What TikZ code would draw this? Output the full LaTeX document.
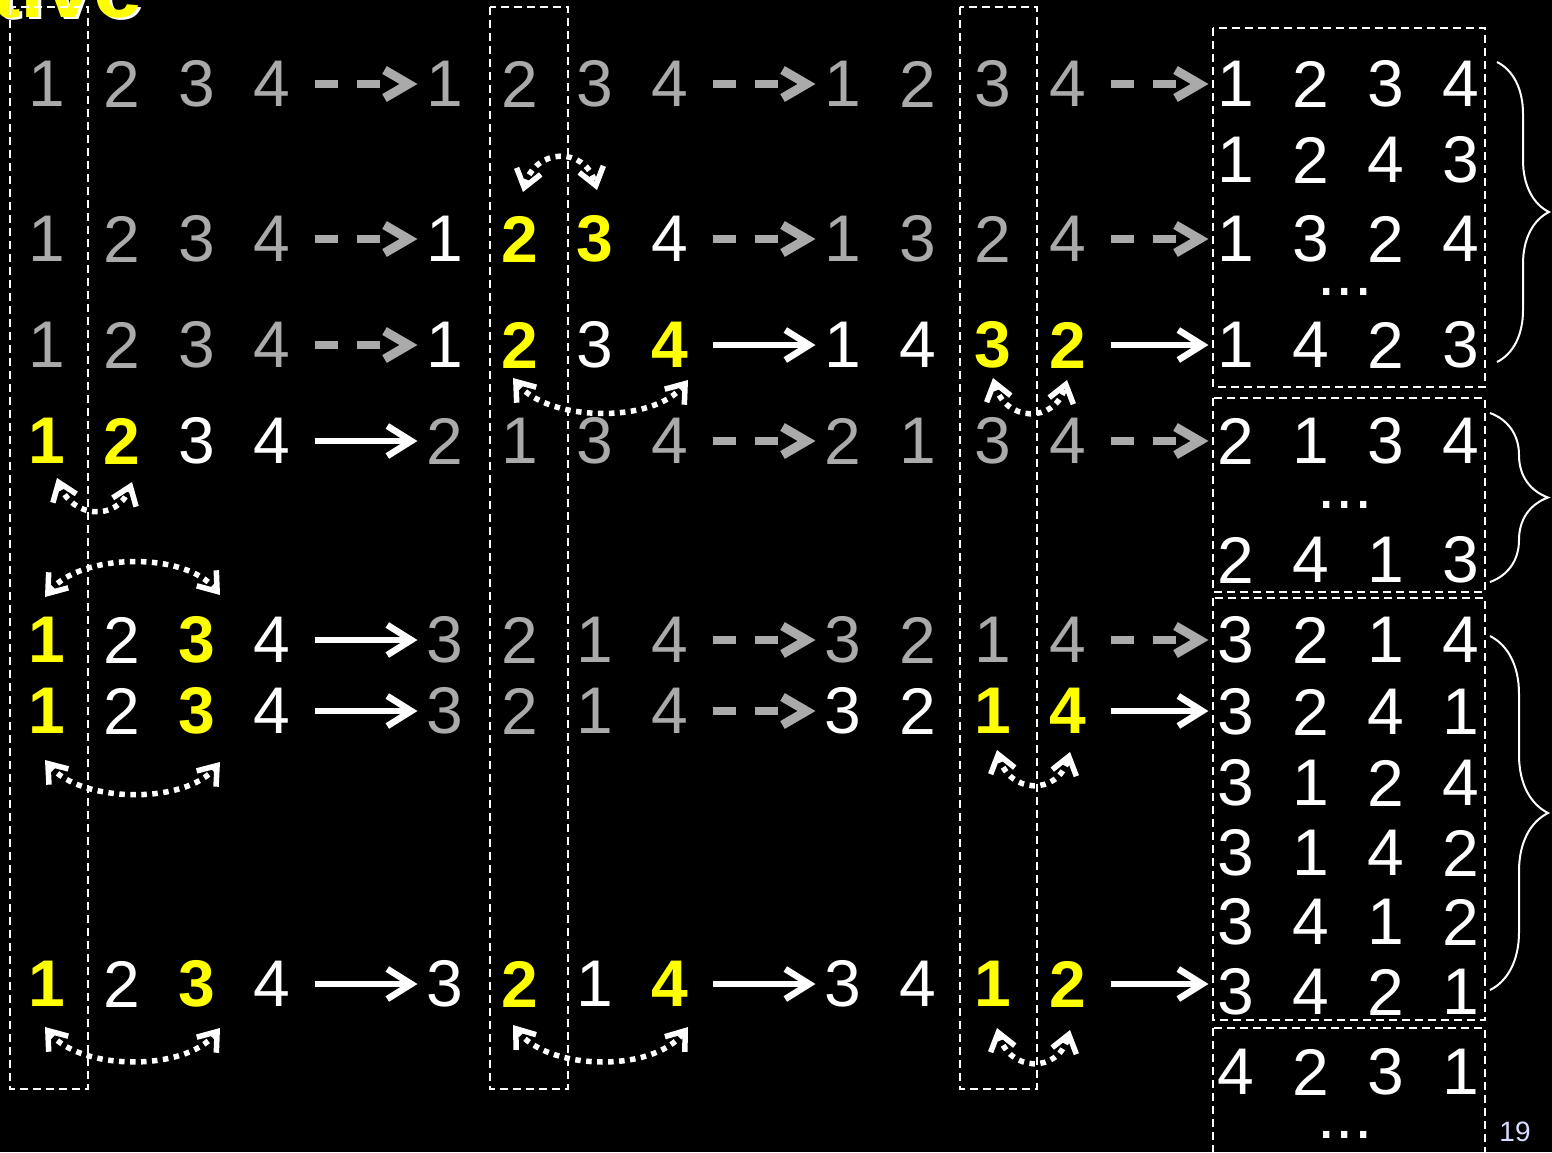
\documentclass[tikz,border=0pt]{standalone}
\usepackage{fontspec}
\setmainfont{Liberation Sans}
\usetikzlibrary{arrows.meta,calc,decorations.pathreplacing}
\definecolor{dimgray}{RGB}{170,170,170}
\definecolor{swapyellow}{RGB}{255,255,0}
\definecolor{pagenum}{RGB}{215,220,255}
\tikzset{
  digit/.style={inner sep=0pt, font=\fontsize{66}{70}\selectfont},
  digdim/.style={digit, text=dimgray},
  digon/.style={digit, text=white},
  digswap/.style={digit, text=swapyellow, font=\fontsize{66}{70}\selectfont\bfseries},
  idlearrow/.style={draw=dimgray, line width=7.5pt, dash pattern=on 23pt off 19pt,
    -{Straight Barb[length=24pt,width=28pt,line width=9pt]}, shorten <=24pt, shorten >=9pt},
  livearrow/.style={draw=white, line width=6.5pt,
    -{Straight Barb[length=24pt,width=30pt]}, shorten <=24pt, shorten >=9pt},
  swaparrow/.style={draw=white, line width=5.5pt, dash pattern=on 5.5pt off 5.5pt,
    {Straight Barb[length=17pt,width=25pt]}-{Straight Barb[length=17pt,width=25pt]}},
  boxline/.style={draw=white, line width=1.6pt, dash pattern=on 8pt off 5pt},
  curly/.style={draw=white, line width=2pt, decorate, decoration={brace, amplitude=#1}}
}
\begin{document}
\begin{tikzpicture}[x=1pt, y=-1pt]
\fill[black] (0,0) rectangle (1552,1152);
\useasboundingbox (0,0) rectangle (1552,1152);

\node[inner sep=0pt, anchor=base east, text=white, font=\fontsize{88}{90}\selectfont\bfseries] (titleshadow) at (146,19) {tive};
\node[inner sep=0pt, anchor=base east, text=swapyellow, font=\fontsize{88}{90}\selectfont\bfseries] (title) at (143,17) {tive};

\draw[boxline] (10,7) rectangle (88,1089);
\draw[boxline] (490,7) rectangle (568,1089);
\draw[boxline] (960,7) rectangle (1037,1089);
\draw[boxline] (1213,28) rectangle (1485,387);
\draw[boxline] (1213,398) rectangle (1485,592);
\draw[boxline] (1213,598) rectangle (1485,1020);
\draw[boxline] (1213,1028) rectangle (1485,1170);

\foreach \v/\s [count=\i] in {1/digdim,2/digdim,3/digdim,4/digdim,1/digdim,2/digdim,3/digdim,4/digdim,1/digdim,2/digdim,3/digdim,4/digdim}
  \node[\s] (r1-\i) at ({47+398*floor((\i-1)/4)+75*mod(\i-1,4)},84) {\v};
\foreach \v/\s [count=\i] in {1/digdim,2/digdim,3/digdim,4/digdim,1/digon,2/digswap,3/digswap,4/digon,1/digdim,3/digdim,2/digdim,4/digdim}
  \node[\s] (r2-\i) at ({47+398*floor((\i-1)/4)+75*mod(\i-1,4)},239) {\v};
\foreach \v/\s [count=\i] in {1/digdim,2/digdim,3/digdim,4/digdim,1/digon,2/digswap,3/digon,4/digswap,1/digon,4/digon,3/digswap,2/digswap}
  \node[\s] (r3-\i) at ({47+398*floor((\i-1)/4)+75*mod(\i-1,4)},345) {\v};
\foreach \v/\s [count=\i] in {1/digswap,2/digswap,3/digon,4/digon,2/digdim,1/digdim,3/digdim,4/digdim,2/digdim,1/digdim,3/digdim,4/digdim}
  \node[\s] (r4-\i) at ({47+398*floor((\i-1)/4)+75*mod(\i-1,4)},441) {\v};
\foreach \v/\s [count=\i] in {1/digswap,2/digon,3/digswap,4/digon,3/digdim,2/digdim,1/digdim,4/digdim,3/digdim,2/digdim,1/digdim,4/digdim}
  \node[\s] (r5-\i) at ({47+398*floor((\i-1)/4)+75*mod(\i-1,4)},640) {\v};
\foreach \v/\s [count=\i] in {1/digswap,2/digon,3/digswap,4/digon,3/digdim,2/digdim,1/digdim,4/digdim,3/digon,2/digon,1/digswap,4/digswap}
  \node[\s] (r6-\i) at ({47+398*floor((\i-1)/4)+75*mod(\i-1,4)},711) {\v};
\foreach \v/\s [count=\i] in {1/digswap,2/digon,3/digswap,4/digon,3/digon,2/digswap,1/digon,4/digswap,3/digon,4/digon,1/digswap,2/digswap}
  \node[\s] (r7-\i) at ({47+398*floor((\i-1)/4)+75*mod(\i-1,4)},984) {\v};

% permutations found
\foreach \p/\y [count=\k] in {{1,2,3,4}/84,{1,2,4,3}/160,{1,3,2,4}/239,{1,4,2,3}/345,{2,1,3,4}/441,{2,4,1,3}/560,{3,2,1,4}/640,{3,2,4,1}/712,{3,1,2,4}/783,{3,1,4,2}/853,{3,4,1,2}/922,{3,4,2,1}/992,{4,2,3,1}/1072}
  \foreach \v [count=\i] in \p
    \node[digon] (s\k-\i) at ({1236+75*(\i-1)},\y) {\v};
\node[digon] (dotsA) at (1345,292) {...};
\node[digon] (dotsB) at (1345,505) {...};
\node[digon] (dotsD) at (1345,1135) {...};

\draw[idlearrow] (r1-4) -- (r1-5);
\draw[idlearrow] (r1-8) -- (r1-9);
\draw[idlearrow] (r1-12) -- (s1-1);
\draw[idlearrow] (r2-4) -- (r2-5);
\draw[idlearrow] (r2-8) -- (r2-9);
\draw[idlearrow] (r2-12) -- (s3-1);
\draw[idlearrow] (r3-4) -- (r3-5);
\draw[livearrow] (r3-8) -- (r3-9);
\draw[livearrow] (r3-12) -- (s4-1);
\draw[livearrow] (r4-4) -- (r4-5);
\draw[idlearrow] (r4-8) -- (r4-9);
\draw[idlearrow] (r4-12) -- (s5-1);
\draw[livearrow] (r5-4) -- (r5-5);
\draw[idlearrow] (r5-8) -- (r5-9);
\draw[idlearrow] (r5-12) -- (s7-1);
\draw[livearrow] (r6-4) -- (r6-5);
\draw[idlearrow] (r6-8) -- (r6-9);
\draw[livearrow] (r6-12) -- (r6-12 -| s8-1.west);
\draw[livearrow] (r7-4) -- (r7-5);
\draw[livearrow] (r7-8) -- (r7-9);
\draw[livearrow] (r7-12) -- (r7-12 -| s12-1.west);

% swaps
\draw[swaparrow] ($(r2-6)+(3,-47)$) .. controls +(12,-44) and +(-12,-44) .. ($(r2-7)+(2,-49)$);
\draw[swaparrow] ($(r3-6)+(-7,33)$) .. controls +(35,44) and +(-35,44) .. ($(r3-8)+(18,35)$);
\draw[swaparrow] ($(r3-11)+(0,33)$) .. controls +(12,44) and +(-12,44) .. ($(r3-12)+(-1,35)$);
\draw[swaparrow] ($(r4-1)+(10,37)$) .. controls +(15,40) and +(-15,40) .. ($(r4-2)+(10,41)$);
\draw[swaparrow] ($(r5-1)+(-2,-43)$) .. controls +(35,-44) and +(-35,-44) .. ($(r5-3)+(23,-45)$);
\draw[swaparrow] ($(r6-1)+(-2,49)$) .. controls +(35,43) and +(-35,43) .. ($(r6-3)+(23,51)$);
\draw[swaparrow] ($(r6-11)+(4,39)$) .. controls +(12,44) and +(-12,44) .. ($(r6-12)+(2,41)$);
\draw[swaparrow] ($(r7-1)+(-2,43)$) .. controls +(35,44) and +(-35,44) .. ($(r7-3)+(23,44)$);
\draw[swaparrow] ($(r7-6)+(-7,41)$) .. controls +(35,46) and +(-35,46) .. ($(r7-8)+(18,43)$);
\draw[swaparrow] ($(r7-11)+(4,44)$) .. controls +(12,44) and +(-12,44) .. ($(r7-12)+(2,46)$);

\draw[curly=52pt] (1497,62) -- (1497,362);
\draw[curly=58pt] (1490,413) -- (1490,582);
\draw[curly=58pt] (1490,636) -- (1490,990);

\node[inner sep=0pt, text=pagenum, font=\fontsize{28}{30}\selectfont] (pageno) at (1515,1132) {19};
\end{tikzpicture}
\end{document}
